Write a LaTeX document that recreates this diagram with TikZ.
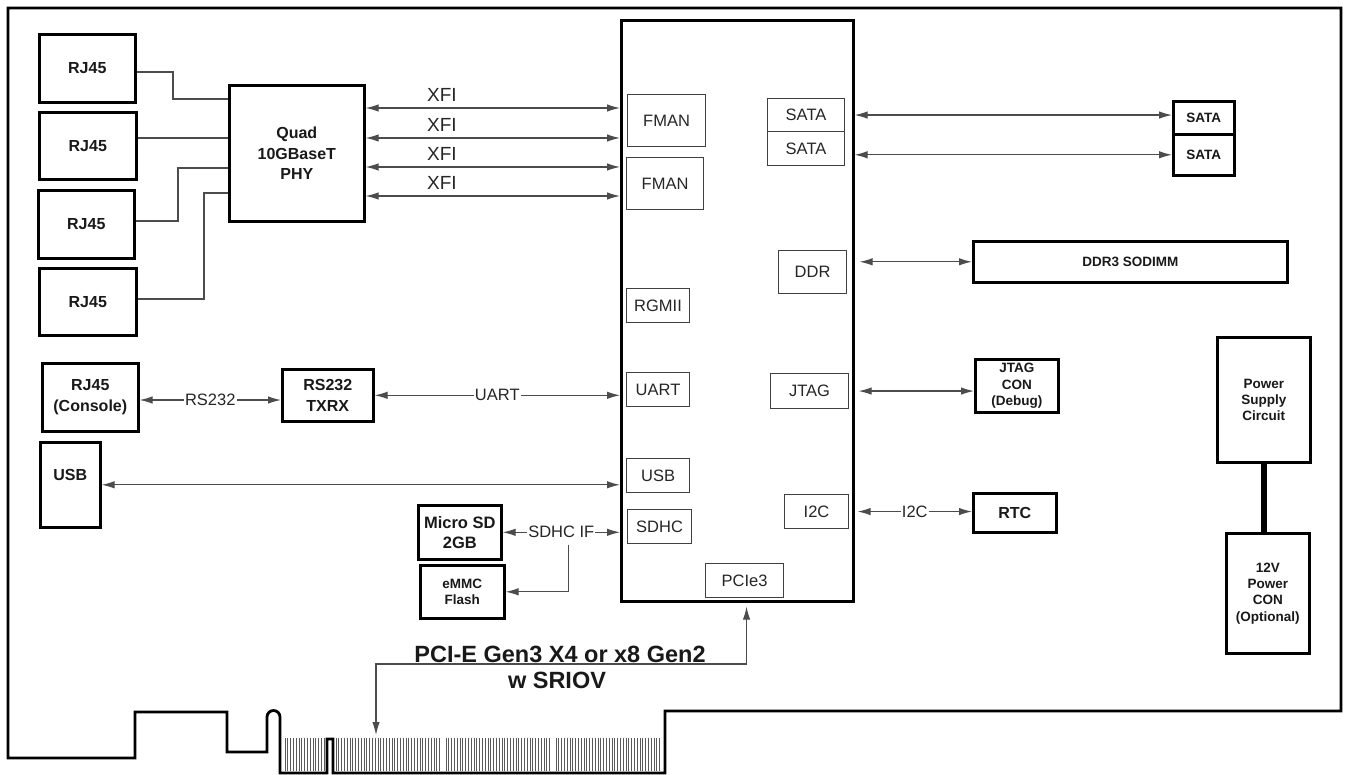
\documentclass[tikz,border=0pt]{standalone}
\usepackage{fontspec}
\setmainfont{Liberation Sans}
\usetikzlibrary{arrows.meta,calc}

\tikzset{
  board/.style={line width=2.8pt, line join=miter},
  blk/.style={draw, line width=2.6pt, anchor=north west, inner sep=0pt, align=center,
    text=black!90, font=\bfseries\fontsize{16}{21}\selectfont},
  smallblk/.style={blk, font=\bfseries\fontsize{13.5}{16.3}\selectfont},
  port/.style={draw=black!75, line width=1.1pt, anchor=north west, inner sep=0pt,
    text=black!85, font=\fontsize{16.5}{20}\selectfont},
  wire/.style={draw=black!70, line width=1.2pt},
  bus/.style={wire, {Latex[length=13pt,width=7.5pt]}-{Latex[length=13pt,width=7.5pt]}},
  feed/.style={wire, -{Latex[length=13pt,width=7.5pt]}},
  tag/.style={fill=white, inner sep=1pt, text=black!85, font=\fontsize{16.5}{20}\selectfont},
  xfi/.style={inner sep=2pt, text=black!85, font=\fontsize{19}{22}\selectfont},
  pcitext/.style={anchor=base, inner sep=0pt, text=black!90, font=\bfseries\fontsize{23.5}{26}\selectfont},
  finger/.style={draw=black!65, line width=1pt},
}

\begin{document}
\begin{tikzpicture}[x=1pt,y=-1pt]
    \fill[white] (0,0) rectangle (1346,775);
    \useasboundingbox (0,0) rectangle (1346,775);
    % Board outline with card edge
    \draw[board] (8,8) -- (1341,8) -- (1341,711) -- (665,711) -- (665,773)
        -- (333,773) -- (333,739) -- (327,739) -- (327,773) -- (280,773)
        -- (280,717) arc[start angle=0, end angle=-180, radius=6.5]
        -- (267,752) -- (227,752) -- (227,712) -- (135,712) -- (135,758)
        -- (8,758) -- cycle;
    % Gold fingers
    \draw[finger] \foreach \x in {285,287.8,...,325} {(\x,738) -- (\x,771)};
    \draw[finger] \foreach \x in {336,338.8,...,440} {(\x,738) -- (\x,771)};
    \draw[finger] \foreach \x in {446,448.8,...,550} {(\x,738) -- (\x,771)};
    \draw[finger] \foreach \x in {556,558.8,...,661} {(\x,738) -- (\x,771)};

    % RJ45 ports and PHY
    \node[blk, minimum width=96pt, minimum height=68pt] (rj1) at (38,33) {RJ45};
    \node[blk, minimum width=97pt, minimum height=67pt] (rj2) at (38,111) {RJ45};
    \node[blk, minimum width=96pt, minimum height=68pt] (rj3) at (37,189) {RJ45};
    \node[blk, minimum width=97pt, minimum height=67pt] (rj4) at (38,267) {RJ45};
    \node[blk, minimum width=135pt, minimum height=136pt, font=\bfseries\fontsize{16}{20.5}\selectfont]
        (phy) at (228,84) {Quad\\10GBaseT\\PHY};
    \draw[wire] (rj1.east |- 0,72) -| (173,99) -- (phy.west |- 0,99);
    \draw[wire] (rj2.east |- 0,138) -- (phy.west |- 0,138);
    \draw[wire] (rj3.east |- 0,221) -| (178,168) -- (phy.west |- 0,168);
    \draw[wire] (rj4.east |- 0,299) -| (204,193) -- (phy.west |- 0,193);

    % Console, USB, SD
    \node[blk, minimum width=96pt, minimum height=68pt] (console) at (41,362) {RJ45\\(Console)};
    \node[blk, minimum width=91pt, minimum height=52pt] (txrx) at (281,368) {RS232\\TXRX};
    \node[blk, minimum width=60pt, minimum height=85pt, text height=12pt, text depth=21.6pt]
        (usbx) at (39,441) {USB};
    \node[blk, minimum width=83pt, minimum height=54pt, font=\bfseries\fontsize{16.5}{20}\selectfont]
        (microsd) at (417,504) {Micro SD\\2GB};
    \node[smallblk, minimum width=84pt, minimum height=53pt] (emmc) at (419,564) {eMMC\\Flash};

    % Processor
    \node[blk, minimum width=232pt, minimum height=581pt] (chip) at (620,19) {};
        \node[port, minimum width=78pt, minimum height=52pt] (fman1) at (627,94) {FMAN};
        \node[port, minimum width=77pt, minimum height=52pt] (fman2) at (626,157) {FMAN};
        \node[port, minimum width=77pt, minimum height=33pt] (sata1) at (767,98) {SATA};
        \node[port, minimum width=77pt, minimum height=34pt] (sata2) at (767,131) {SATA};
        \node[port, minimum width=68pt, minimum height=43pt] (ddr) at (778,250) {DDR};
        \node[port, minimum width=63pt, minimum height=34pt] (rgmii) at (626,288) {RGMII};
        \node[port, minimum width=63pt, minimum height=34pt] (uart) at (626,372) {UART};
        \node[port, minimum width=78pt, minimum height=35pt] (jtag) at (770,373) {JTAG};
        \node[port, minimum width=63pt, minimum height=34pt] (usb) at (626,458) {USB};
        \node[port, minimum width=64pt, minimum height=34pt] (i2c) at (784,494) {I2C};
        \node[port, minimum width=64pt, minimum height=34pt] (sdhc) at (627,509) {SDHC};
        \node[port, minimum width=78pt, minimum height=34pt] (pcie) at (705,563) {PCIe3};

    % Right side devices
    \node[smallblk, minimum width=61pt, minimum height=33pt] (satax1) at (1172,100) {SATA};
    \node[smallblk, minimum width=61pt, minimum height=41pt] (satax2) at (1172,133) {SATA};
    \node[smallblk, minimum width=314pt, minimum height=41pt] (sodimm) at (972,240) {DDR3 SODIMM};
    \node[smallblk, minimum width=83pt, minimum height=53pt] (jtagcon) at (974,358) {JTAG\\CON\\(Debug)};
    \node[blk, minimum width=83pt, minimum height=39pt] (rtc) at (972,492) {RTC};
    \node[smallblk, minimum width=93pt, minimum height=125pt] (psu) at (1216,336) {Power\\Supply\\Circuit};
    \node[smallblk, minimum width=83pt, minimum height=120pt] (pwr12) at (1225,532) {12V\\Power\\CON\\(Optional)};
    \draw[line width=6pt] (psu.south) -- (pwr12.north -| psu.south);

    % Links
    \foreach \y in {108,138,167,196}
        \draw[bus] (phy.east |- 0,\y) -- node[xfi, pos=.30, above=4pt] {XFI} (chip.west |- 0,\y);
    \draw[bus] (console.east |- 0,400) -- node[tag] (rstag) {RS232} (txrx.west |- 0,400);
    \draw[bus] (txrx.east) -- node[tag] (uarttag) {UART} (chip.west |- txrx.east);
    \draw[bus] (usbx.east) -- (chip.west |- usbx.east);
    \draw[bus] (microsd.east) -- node[tag] (sdhcif) {SDHC IF} (chip.west |- microsd.east);
        \draw[feed] ([xshift=7pt,yshift=-5pt]sdhcif.south) |- (emmc.east);
    \draw[bus] (chip.east |- sata1) -- (satax1.west |- sata1);
    \draw[bus] (chip.east |- satax2) -- (satax2.west);
    \draw[bus] ([xshift=5pt]chip.east |- sodimm) -- (sodimm.west);
    \draw[bus] ([xshift=4pt]chip.east |- jtag) -- (jtagcon.west |- jtag);
    \draw[bus] ([xshift=3pt]chip.east |- i2c) -- node[tag] (i2ctag) {I2C} (rtc.west |- i2c);

    % PCI Express edge
    \coordinate (edge) at (376,735);
    \draw[bus] ($(chip.south -| pcie.south)+(2,4)$) |- (edge |- 0,664) -- (edge);
    \node[pcitext] (pcitxt) at (560,662) {PCI-E Gen3 X4 or x8 Gen2};
    \node[pcitext] (sriovtxt) at (557,688) {w SRIOV};
\end{tikzpicture}
\end{document}
